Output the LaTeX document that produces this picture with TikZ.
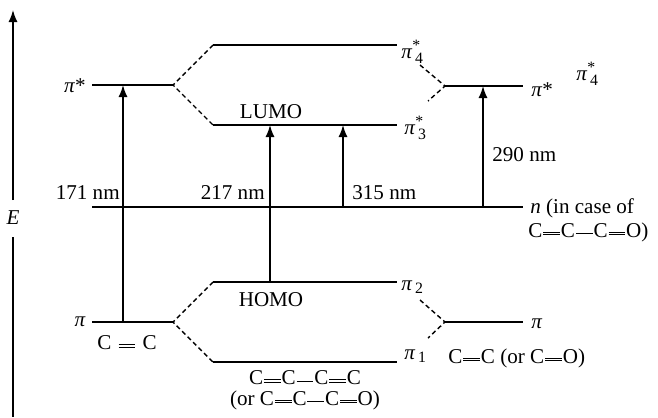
\documentclass[tikz,border=0pt]{standalone}
\usepackage{fontspec}
\setmainfont{Liberation Serif}
\usetikzlibrary{arrows.meta}
\newcommand{\dbd}{\kern0.04em\raisebox{0.2ex}{\rule{0.8em}{0.08ex}}\kern-0.8em\raisebox{0.48ex}{\rule{0.8em}{0.08ex}}\kern0.04em}
\newcommand{\sbd}{\kern0.04em\raisebox{0.34ex}{\rule{0.8em}{0.08ex}}\kern0.04em}
\newcommand{\piit}{\textit{π}}
\newcommand{\scr}[1]{{\fontsize{9}{10}\selectfont #1}}
\newcommand{\pisub}[1]{\textit{π}$^{\hbox{\scr{*}}}_{\hbox{\scr{\,#1}}}$}
\newcommand{\pione}[1]{\textit{π}$_{\hbox{\scr{\,#1}}}$}
\begin{document}
\begin{tikzpicture}[x=0.02cm,y=-0.02cm,
  level/.style={line width=0.85pt},
  corr/.style={line width=0.8pt,dash pattern=on 2.6pt off 1.8pt},
  trans/.style={line width=0.8pt,-{Latex[length=0.24cm,width=0.18cm]}},
  lbl/.style={inner sep=0pt,font=\fontsize{12}{14}\selectfont}]
\useasboundingbox (0,0) rectangle (658,417);
% energy axis
\coordinate (et) at (13,10); \coordinate (ea) at (13,200);
\coordinate (eb) at (13,237); \coordinate (ebot) at (13,417);
\draw[trans] (ea) -- (et);
\draw[level] (eb) -- (ebot);
\node[lbl,font=\fontsize{12}{14}\selectfont\itshape] (E) at (13,218) {E};
% level endpoints
\coordinate (ps1) at (92,85);  \coordinate (ps2) at (173,85);
\coordinate (p4a) at (213,45); \coordinate (p4b) at (397,45);
\coordinate (p3a) at (213,125);\coordinate (p3b) at (397,125);
\coordinate (rsa) at (445,86); \coordinate (rsb) at (523,86);
\coordinate (r4d) at (420,65); \coordinate (r3d) at (428,101);
\coordinate (na) at (92,207);  \coordinate (nb) at (523,207);
\coordinate (pa) at (92,322);  \coordinate (pb) at (173,322);
\coordinate (p2a) at (213,282);\coordinate (p2b) at (397,282);
\coordinate (p1a) at (213,362);\coordinate (p1b) at (397,362);
\coordinate (rpa) at (445,322);\coordinate (rpb) at (523,322);
\coordinate (r2d) at (420,300);\coordinate (r1d) at (428,338);
% levels
\draw[level] (ps1) -- (ps2);
\draw[level] (p4a) -- (p4b);
\draw[level] (p3a) -- (p3b);
\draw[level] (rsa) -- (rsb);
\draw[level] (na) -- (nb);
\draw[level] (pa) -- (pb);
\draw[level] (p2a) -- (p2b);
\draw[level] (p1a) -- (p1b);
\draw[level] (rpa) -- (rpb);
% correlation lines
\draw[corr] (p4a) -- (ps2) -- (p3a);
\draw[corr] (r4d) -- (rsa) -- (r3d);
\draw[corr] (p2a) -- (pb) -- (p1a);
\draw[corr] (r2d) -- (rpa) -- (r1d);
% transitions
\coordinate (t1a) at (123,322); \coordinate (t1b) at (123,85);
\coordinate (t2a) at (270,282); \coordinate (t2b) at (270,125);
\coordinate (t3a) at (343,207); \coordinate (t3b) at (343,125);
\coordinate (t4a) at (483,207); \coordinate (t4b) at (483,86);
\draw[trans] (t1a) -- (t1b);
\draw[trans] (t2a) -- (t2b);
\draw[trans] (t3a) -- (t3b);
\draw[trans] (t4a) -- (t4b);
% labels
\node[lbl,anchor=east] (lps) at (86,86) {\piit*};
\node[lbl,anchor=east] (lp) at (86,322) {\piit};
\node[lbl] (lcc) at (127,343) {C\hspace{0.3em}\dbd\hspace{0.3em}C};
\node[lbl] (lumo) at (271,112) {LUMO};
\node[lbl] (homo) at (271,300) {HOMO};
\node[lbl,anchor=east] (n171) at (120,193) {171 nm};
\node[lbl,anchor=east] (n217) at (265,193) {217 nm};
\node[lbl,anchor=west] (n315) at (352,193) {315 nm};
\node[lbl,anchor=west] (n290) at (492,155) {290 nm};
\node[lbl,anchor=west] (l4) at (401,52) {\pisub{4}};
\node[lbl,anchor=west] (l3) at (404,128) {\pisub{3}};
\node[lbl,anchor=west] (l2) at (401,287) {\pione{2}};
\node[lbl,anchor=west] (l1) at (404,356) {\pione{1}};
\node[lbl,anchor=west] (lrs) at (531,90) {\piit*};
\node[lbl,anchor=west] (lr4) at (576,74) {\pisub{4}};
\node[lbl,anchor=west] (lrp) at (531,324) {\piit};
\node[lbl,anchor=west] (lrcc) at (448,358) {C\dbd C (or C\dbd O)};
\node[lbl,anchor=west] (ln) at (530,208) {\textit{n} (in case of};
\node[lbl,anchor=west] (lncc) at (528,232) {C\dbd C\sbd C\dbd O)};
\node[lbl] (lbut) at (305,378) {C\dbd C\sbd C\dbd C};
\node[lbl] (lor) at (305,400) {(or C\dbd C\sbd C\dbd O)};
\end{tikzpicture}
\end{document}
